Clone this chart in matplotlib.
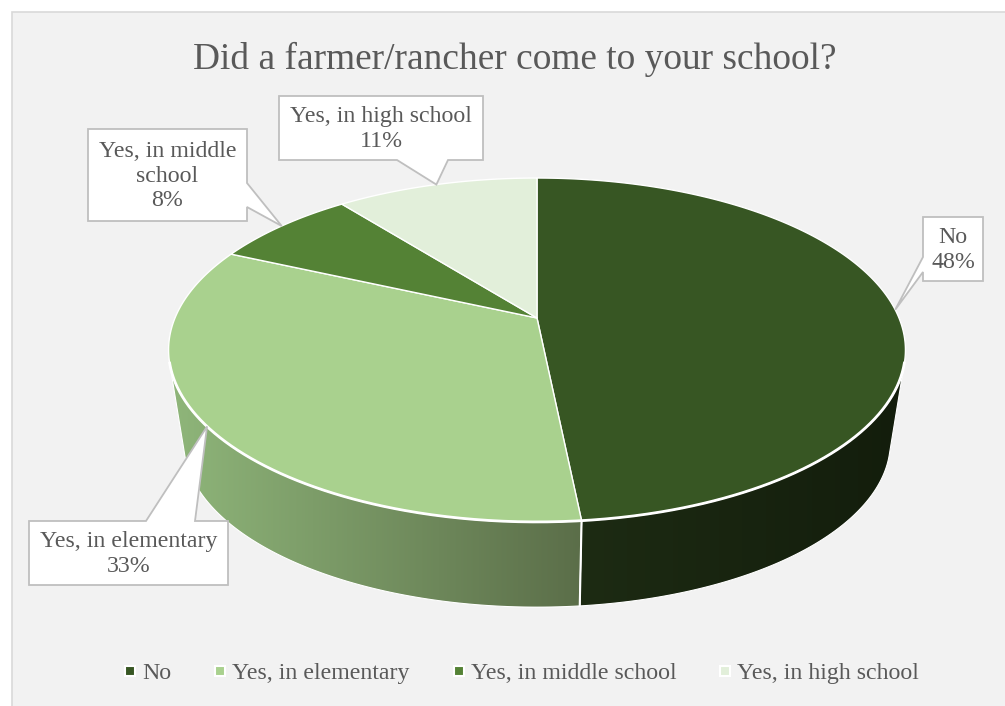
import numpy as np
import matplotlib.pyplot as plt
from matplotlib.patches import Polygon, Rectangle
from matplotlib.lines import Line2D

plt.rcParams['font.family'] = ['Liberation Serif', 'DejaVu Serif']

title = "Did a farmer/rancher come to your school?"
categories = ["No", "Yes, in elementary", "Yes, in middle school", "Yes, in high school"]
label_text = ["No", "Yes, in elementary", "Yes, in middle\nschool", "Yes, in high school"]
shares = [48.4, 33.4, 7.6, 10.6]
top_colors = ["#375623", "#A9D18E", "#548235", "#E2EFDA"]
side_colors = [("#1d2b13", "#131d0c"), ("#8fb67a", "#5b6e49"),
               ("#3a5a24", "#2c441b"), ("#c5d3bd", "#9fab98")]

# callout boxes (left, top, right, bottom), the side the pointer leaves from, pointer base
callouts = [
    ((923, 217, 983, 281), "left", (257, 272)),
    ((29, 521, 228, 585), "top", (146, 195)),
    ((88, 129, 247, 221), "right", (183, 207)),
    ((279, 96, 483, 160), "bottom", (397, 448)),
]

W, H = 1005, 706
text_col = "#595959"

# pie geometry in pixels
cx, cy = 537, 318
rx, ry, persp = 362, 166, 0.186
vy, depth = 2600, 0.959


def top_pt(phi):
    a = np.radians(phi)
    u, v = np.sin(a), np.cos(a)
    s = 1 / (1 + persp * v)
    return cx + rx * u * s, cy - ry * v * s


def bottom_pt(phi):
    x, y = top_pt(phi)
    return cx + depth * (x - cx), vy + depth * (y - vy)


def callout_poly(box, side, base, tip):
    l, t, r, b = box
    if side == "bottom":
        pts = [(l, t), (r, t), (r, b), (base[1], b), tip, (base[0], b), (l, b)]
    elif side == "top":
        pts = [(l, t), (base[0], t), tip, (base[1], t), (r, t), (r, b), (l, b)]
    elif side == "left":
        pts = [(l, t), (r, t), (r, b), (l, b), (l, base[1]), tip, (l, base[0])]
    else:
        pts = [(l, t), (r, t), (r, base[0]), tip, (r, base[1]), (r, b), (l, b)]
    return pts


fig = plt.figure(figsize=(W / 100, H / 100), dpi=100, facecolor="white")
ax = fig.add_axes([0, 0, 1, 1])

ax.add_patch(Rectangle((12, 12), W, H, facecolor="#F2F2F2", edgecolor="#D9D9D9", lw=1.2, zorder=0))

# slice angles, clockwise from 12 o'clock
bounds = np.concatenate([[0], np.cumsum(shares) / sum(shares) * 360])

# outline of the side wall as seen from the vanishing point below
grid = np.linspace(0, 360, 7201)
gx, gy = top_pt(grid)
ang = np.arctan2(gx - cx, vy - gy)
phi_r, phi_l = grid[np.argmax(ang)], grid[np.argmin(ang)]

for i in range(len(shares)):
    lo, hi = max(bounds[i], phi_r), min(bounds[i + 1], phi_l)
    if hi <= lo:
        continue
    arc = np.linspace(lo, hi, 300)
    tx, ty = top_pt(arc)
    bx, by = bottom_pt(arc)
    xs = np.concatenate([tx, bx[::-1]])
    ys = np.concatenate([ty, by[::-1]])
    wall = Polygon(np.column_stack([xs, ys]), closed=True, facecolor="none",
                   edgecolor="white", lw=0.8, zorder=3)
    ax.add_patch(wall)
    c0 = np.array(plt.matplotlib.colors.to_rgb(side_colors[i][0]))
    c1 = np.array(plt.matplotlib.colors.to_rgb(side_colors[i][1]))
    g = np.linspace(0, 1, 256)[:, None]
    img = ((1 - g) * c0 + g * c1)[None, :, :]
    im = ax.imshow(img, extent=[xs.min(), xs.max(), ys.max(), ys.min()],
                   aspect="auto", zorder=2, interpolation="bilinear")
    im.set_clip_path(wall)

# seams between slices on the wall
for b in bounds:
    if phi_r < b < phi_l:
        (x0, y0), (x1, y1) = top_pt(b), bottom_pt(b)
        ax.plot([x0, x1], [y0, y1], color="white", lw=1.5, zorder=3.5)

# top face
for i in range(len(shares)):
    arc = np.linspace(bounds[i], bounds[i + 1], 300)
    tx, ty = top_pt(arc)
    pts = np.column_stack([np.concatenate([[cx], tx]), np.concatenate([[cy], ty])])
    ax.add_patch(Polygon(pts, closed=True, facecolor=top_colors[i], edgecolor="white",
                         lw=1.0, zorder=4))

front = np.linspace(phi_r, phi_l, 400)
fx, fy = top_pt(front)
ax.plot(fx, fy, color="white", lw=2.0, zorder=5)

# data labels
for i, (box, side, base) in enumerate(callouts):
    mid = (bounds[i] + bounds[i + 1]) / 2
    tip = top_pt(mid)
    ax.add_patch(Polygon(callout_poly(box, side, base, tip), closed=True, facecolor="white",
                         edgecolor="#BFBFBF", lw=1.3, zorder=6, joinstyle="miter"))
    l, t, r, b = box
    ax.text((l + r) / 2, (t + b) / 2 + 1, f"{label_text[i]}\n{shares[i]:.0f}%", ha="center",
            va="center", fontsize=17.2, color=text_col, linespacing=1.2, zorder=7)

ax.text(515, 59, title, ha="center", va="center", fontsize=26.9, color=text_col)

handles = [Line2D([], [], ls="none", marker="s", markersize=6.5, markerfacecolor=c,
                  markeredgecolor="white", markeredgewidth=1.5) for c in top_colors]
fig.legend(handles, categories, loc="center", bbox_to_anchor=(521 / W, 1 - 673 / H), ncol=4,
           frameon=False, fontsize=17.2, handlelength=0.6, handletextpad=0.2,
           columnspacing=1.75, labelcolor=text_col)

ax.set_xlim(0, W)
ax.set_ylim(H, 0)
ax.axis("off")

fig.savefig("out.png", dpi=100, facecolor="white")
